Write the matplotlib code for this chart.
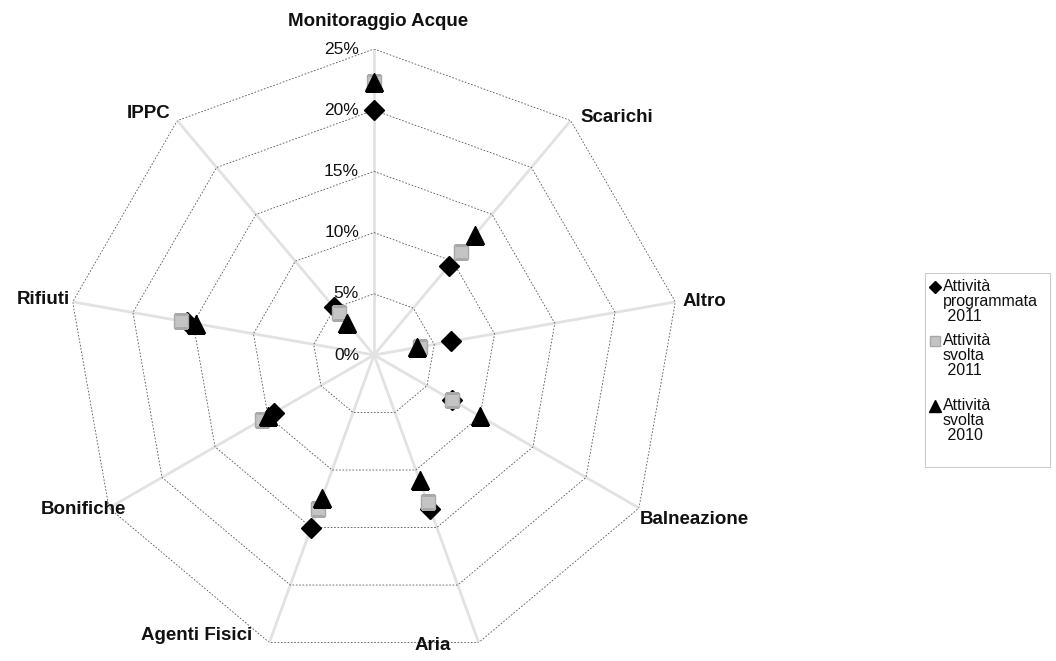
import numpy as np
import matplotlib
matplotlib.use("Agg")
import matplotlib.pyplot as plt
from matplotlib.lines import Line2D
from matplotlib.patches import Rectangle
from matplotlib.transforms import offset_copy

plt.rcParams['font.family'] = ['Liberation Sans', 'DejaVu Sans']

categories = ["Monitoraggio Acque", "Scarichi", "Altro", "Balneazione", "Aria",
              "Agenti Fisici", "Bonifiche", "Rifiuti", "IPPC"]
programmata_2011 = [20.0, 9.5, 6.4, 7.4, 13.4, 15.0, 9.4, 15.5, 5.1]
svolta_2011 = [22.3, 11.0, 3.8, 7.4, 12.8, 13.4, 10.6, 16.0, 4.5]
svolta_2010 = [22.3, 12.8, 3.6, 10.0, 10.9, 12.4, 10.0, 14.8, 3.4]
ticks = [0, 5, 10, 15, 20, 25]
tick_labels = ["0%", "5%", "10%", "15%", "20%", "25%"]
series_labels = ["Attività\nprogrammata\n 2011", "Attività\nsvolta\n 2011", "Attività\nsvolta\n 2010"]

W, H = 1056, 661
fig = plt.figure(figsize=(W / 100, H / 100), dpi=100)

cx, cy, R = 374, 355, 306
ax = fig.add_axes([(cx - R) / W, 1 - (cy + R) / H, 2 * R / W, 2 * R / H], projection='polar')
ax.set_theta_offset(np.pi / 2)
ax.set_theta_direction(-1)
ax.set_ylim(0, 25)
ax.axis('off')

n = len(categories)
angles = np.arange(n) * 2 * np.pi / n

# spokes
for a in angles:
    ax.plot([a, a], [0, 25], color='#e2e2e2', lw=2.0, zorder=1, solid_capstyle='butt')
# rings
closed = np.append(angles, angles[0])
for t in ticks[1:]:
    ax.plot(closed, [t] * (n + 1), color='#555555', lw=0.6, ls=(0, (2, 2)), zorder=2)

# tick labels
tr = offset_copy(ax.transData, fig=fig, x=-15, y=0, units='dots')
for t, lab in zip(ticks, tick_labels):
    ax.text(0, t, lab, ha='right', va='center', fontsize=12.5,
            color='#111111', zorder=5, transform=tr)

# series
ax.plot(angles, programmata_2011, ls='none', marker='D', ms=10, color='black', zorder=6)
ax.plot(angles, svolta_2011, ls='none', marker='s', ms=10, markerfacecolor='#c4c4c4',
        markeredgecolor='#a8a8a8', zorder=7)
ax.plot(angles, svolta_2010, ls='none', marker='^', ms=13, color='black', zorder=8)

# category labels (figure pixel positions)
lab_pos = {
    "Monitoraggio Acque": (378, 22, 'center'),
    "Scarichi": (580, 118, 'left'),
    "Altro": (683, 301, 'left'),
    "Balneazione": (640, 519, 'left'),
    "Aria": (415, 646, 'left'),
    "Agenti Fisici": (197, 636, 'center'),
    "Bonifiche": (126, 510, 'right'),
    "Rifiuti": (70, 300, 'right'),
    "IPPC": (171, 113, 'right'),
}
for c in categories:
    x, y, ha = lab_pos[c]
    fig.text(x / W, 1 - y / H, c, ha=ha, va='center', fontsize=13.5, fontweight='bold', color='#111111')

# legend box
fig.add_artist(Rectangle((925 / W, 1 - 467 / H), 125 / W, 194 / H, transform=fig.transFigure,
                         fill=False, edgecolor='#cccccc', lw=0.8))
leg_items = [
    (dict(marker='D', ms=6, color='black', ls='none'), 287),
    (dict(marker='s', ms=7, markerfacecolor='#c4c4c4', markeredgecolor='#a8a8a8', ls='none'), 341),
    (dict(marker='^', ms=8, color='black', ls='none'), 406),
]
for (kw, y0), lab in zip(leg_items, series_labels):
    fig.add_artist(Line2D([935 / W], [1 - y0 / H], transform=fig.transFigure, **kw))
    fig.text(943 / W, 1 - (y0 - 8) / H, lab, ha='left', va='top', fontsize=11.5,
             linespacing=1.0, color='#111111')

fig.savefig("out.png", dpi=100)
